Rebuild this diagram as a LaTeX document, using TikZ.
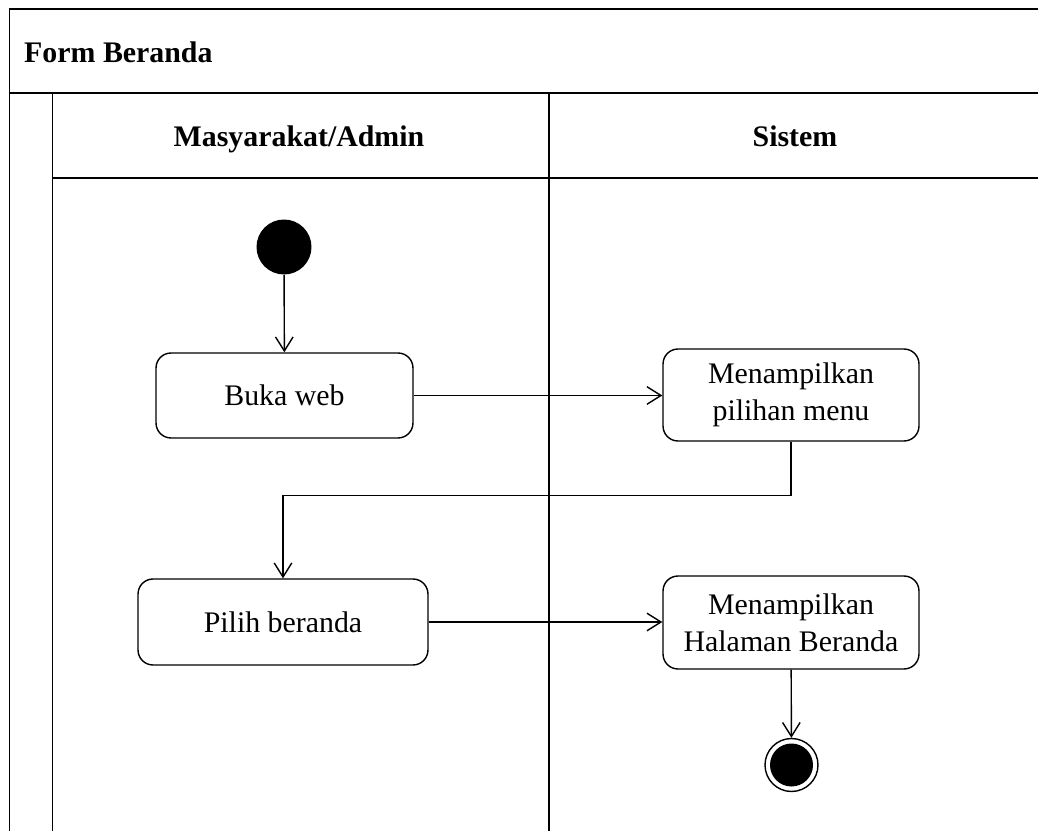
\documentclass[tikz,border=0pt]{standalone}
\usepackage{fontspec}
\setmainfont{Liberation Serif}
\usetikzlibrary{arrows.meta}

\begin{document}
\begin{tikzpicture}[x=0.02cm, y=-0.02cm,
		font=\fontsize{17}{21}\selectfont,
		lane/.style={line width=1.1pt},
		lanehead/.style={font=\fontsize{17}{21}\selectfont\bfseries},
		actbox/.style={draw, line width=0.8pt, rounded corners=0.3cm, align=center},
		startnode/.style={circle, fill=black, minimum size=1.1cm, inner sep=0pt},
		endnode/.style={circle, draw, line width=0.8pt, minimum size=1.06cm, inner sep=0pt},
		flow/.style={line width=0.8pt, -{Straight Barb[length=8pt, width=10pt]}}]
		\useasboundingbox (0,0) rectangle (1038,831);
	%	swimlane frame
		\draw[lane] (1038,9) -- (9.5,9) -- (9.5,831);
		\draw[lane] (9.5,93) -- (1038,93);
		\draw[lane] (52.5,93) -- (52.5,831);
		\draw[lane] (52.5,178) -- (1038,178);
		\draw[lane] (549,93) -- (549,831);
		\node[lanehead, anchor=base west] (title) at (18,63) {Form Beranda};
		\node[lanehead, anchor=base] (user) at (299,147) {Masyarakat/Admin};
		\node[lanehead, anchor=base] (sistem) at (795,147) {Sistem};
	%	activities
		\node[startnode] (start) at (284,247) {};
		\node[actbox, minimum width=5.14cm, minimum height=1.7cm] (buka) at (284.5,395.5) {Buka web};
		\node[actbox, minimum width=5.12cm, minimum height=1.84cm] (menu) at (791,395) {Menampilkan\\pilihan menu};
		\node[actbox, minimum width=5.8cm, minimum height=1.72cm] (pilih) at (283,622) {Pilih beranda};
		\node[actbox, minimum width=5.12cm, minimum height=1.86cm] (halaman) at (791,622.5) {Menampilkan\\Halaman Beranda};
		\node[endnode] (end) at (791.5,765) {};
		\fill (end.center) circle (0.43cm);
	%	flows
		\draw[flow] (start) -- (buka);
		\draw[flow] (buka.east) -- (buka.east -| menu.west);
		\draw[flow] (menu.south) -- ++(0,54) -| (pilih.north);
		\draw[flow] (pilih.east) -- (pilih.east -| halaman.west);
		\draw[flow] (halaman) -- (end);
	\end{tikzpicture}
\end{document}
